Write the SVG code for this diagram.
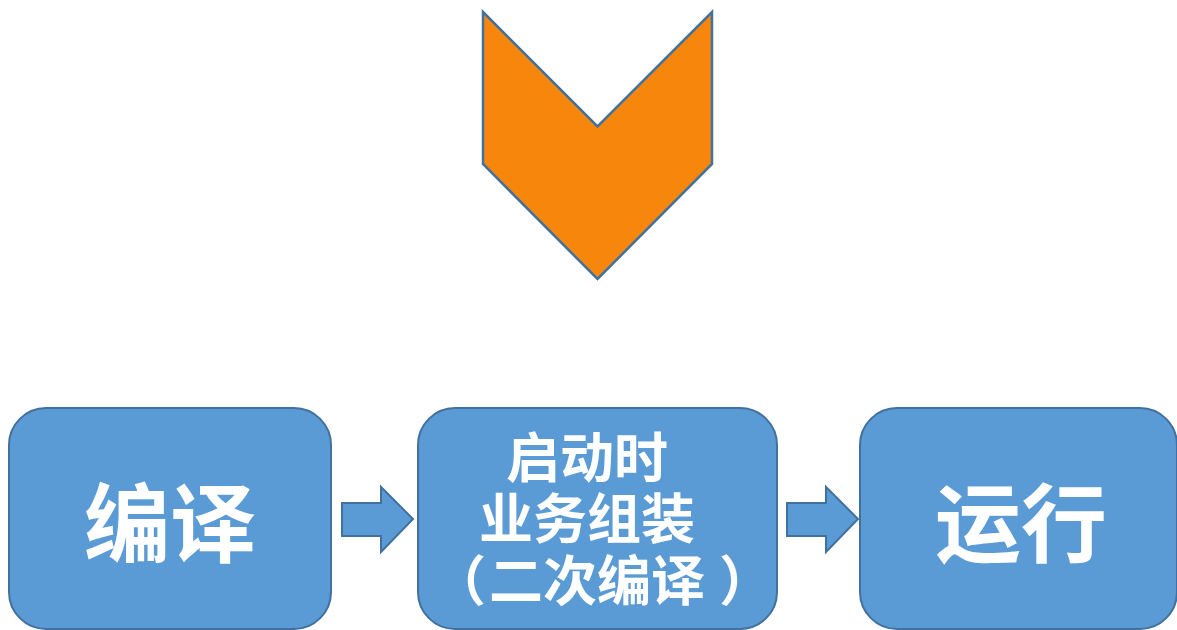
<svg xmlns="http://www.w3.org/2000/svg" width="1177" height="630" viewBox="0 0 1177 630">
<style>
.box{fill:#5B9BD5;stroke:#41719C;stroke-width:2}
.arr{fill:#5B9BD5;stroke:#41719C;stroke-width:2;stroke-linejoin:miter}
.chev{fill:#F7870C;stroke:#41719C;stroke-width:2.5}
.t{fill:#FFFFFF;font-family:"Noto Sans CJK SC","Noto Sans",sans-serif;font-weight:bold}
.big{font-size:86px}
.mid{font-size:54px}
</style>
<rect x="0" y="0" width="1177" height="630" fill="#FFFFFF"/>
<g id="chevron">
<polygon class="chev" points="483,12 597.5,126.5 712,12 712,164 597.5,279 483,164"/>
</g>
<g id="node-compile">
<rect class="box" x="9" y="408" width="322" height="221" rx="37" ry="37"/>
<text class="t big" x="170" y="556" text-anchor="middle">编译</text>
</g>
<g id="node-assemble">
<rect class="box" x="418" y="408" width="359" height="221" rx="37" ry="37"/>
<text class="t mid" x="587" y="478" text-anchor="middle">启动时</text>
<text class="t mid" x="587" y="539" text-anchor="middle">业务组装</text>
<text class="t mid" y="601"><tspan x="432">（</tspan><tspan x="489">二次编译</tspan><tspan x="719">）</tspan></text>
</g>
<g id="node-run">
<rect class="box" x="860" y="408" width="317" height="221" rx="37" ry="37"/>
<text class="t big" x="1021" y="556" text-anchor="middle">运行</text>
</g>
<g id="connectors">
<polygon class="arr" points="342,503 381,503 381,487 413,519 381,552 381,536 342,536"/>
<polygon class="arr" points="787,503 826,503 826,487 858,519 826,552 826,536 787,536"/>
</g>
</svg>
